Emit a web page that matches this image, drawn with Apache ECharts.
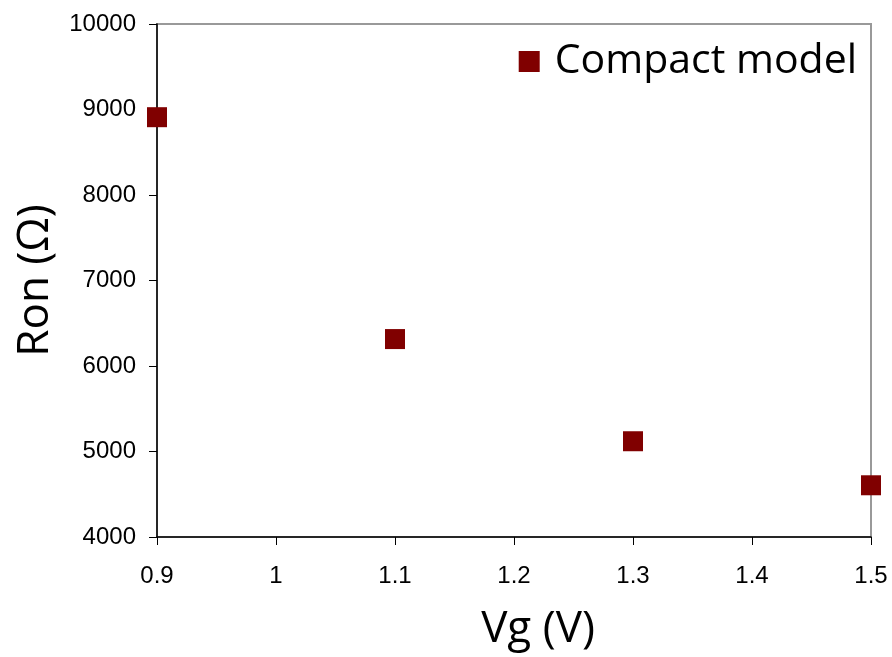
<!DOCTYPE html>
<html>
<head>
<meta charset="utf-8">
<script src="https://cdn.jsdelivr.net/npm/echarts@6/dist/echarts.min.js"></script>
<style>
  html, body { margin: 0; padding: 0; background: #fff; }
  #chart { width: 892px; height: 657px; }
</style>
</head>
<body>
<div id="chart"></div>
<script>
// gate voltage (V) and on-resistance (ohm)
var vg = [0.9, 1.1, 1.3, 1.5];
var ron = [8910, 6315, 5120, 4605];
var seriesName = "Compact model";

var points = vg.map(function (v, i) { return [v, ron[i]]; });

var chart = echarts.init(document.getElementById("chart"));
var option = {
  animation: false,
  grid: {
    left: 157,
    right: 21,
    top: 24,
    bottom: 120,
    outerBoundsMode: "none",
    show: true,
    borderColor: "#999",
    borderWidth: 2
  },
  legend: {
    data: [seriesName],
    right: 30,
    top: 36,
    icon: "rect",
    itemWidth: 21,
    itemHeight: 21,
    itemGap: 14,
    textStyle: {
      color: "#000",
      fontSize: 41,
      fontFamily: "Open Sans",
      padding: [0, 0, 0, 10]
    }
  },
  xAxis: {
    type: "value",
    min: 0.9,
    max: 1.5,
    interval: 0.1,
    name: "Vg (V)",
    nameLocation: "middle",
    nameGap: 70,
    nameTextStyle: {
      color: "#000",
      fontSize: 44,
      fontFamily: "Open Sans",
      padding: [0, 0, 0, 48]
    },
    splitLine: { show: false },
    axisLine: { lineStyle: { color: "#000", width: 1.5 } },
    axisTick: { length: 8, lineStyle: { color: "#000" } },
    axisLabel: {
      color: "#000",
      fontSize: 24,
      fontFamily: "Liberation Sans",
      margin: 27,
      formatter: function (v) { return String(+v.toFixed(1)); }
    }
  },
  yAxis: {
    type: "value",
    min: 4000,
    max: 10000,
    interval: 1000,
    name: "Ron (\u03A9)",
    nameLocation: "middle",
    nameGap: 100,
    nameTextStyle: { color: "#000", fontSize: 44, fontFamily: "Open Sans" },
    splitLine: { show: false },
    axisLine: { show: true, lineStyle: { color: "#000", width: 1.5 } },
    axisTick: { show: true, length: 8, lineStyle: { color: "#000" } },
    axisLabel: {
      color: "#000",
      fontSize: 24,
      fontFamily: "Liberation Sans",
      margin: 21,
      formatter: function (v) { return String(v); }
    }
  },
  series: [
    {
      name: seriesName,
      type: "scatter",
      symbol: "rect",
      symbolSize: 20,
      itemStyle: { color: "#800000", opacity: 1 },
      data: points
    }
  ]
};
chart.setOption(option);
</script>
</body>
</html>
